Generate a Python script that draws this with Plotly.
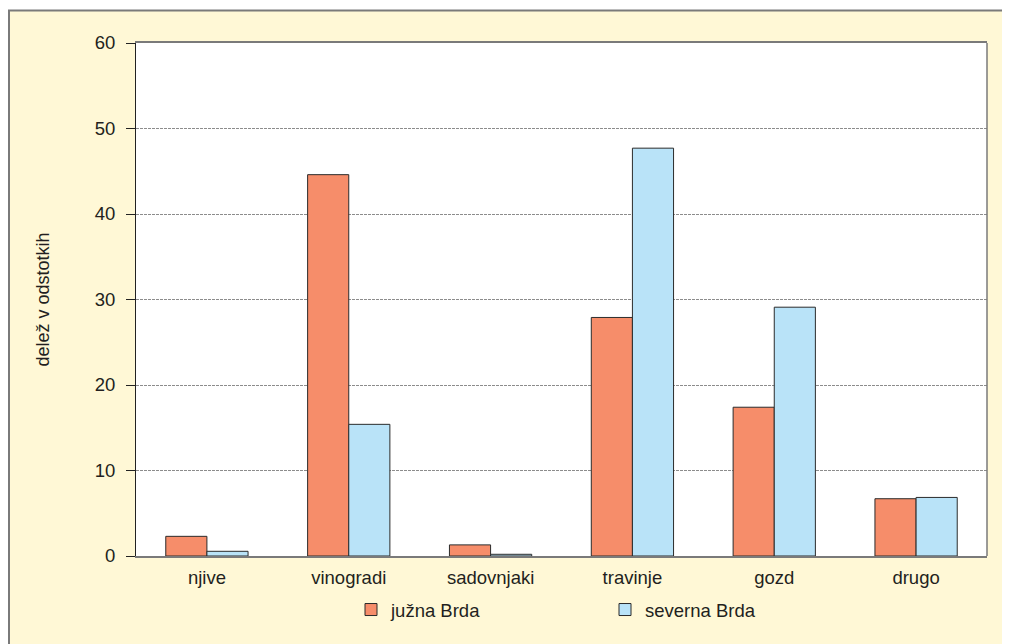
import plotly.graph_objects as go

categories = ["njive", "vinogradi", "sadovnjaki", "travinje", "gozd", "drugo"]
juzna_brda = [2.3, 44.6, 1.3, 27.9, 17.4, 6.7]
severna_brda = [0.55, 15.4, 0.2, 47.7, 29.1, 6.85]
series_names = ["južna Brda", "severna Brda"]
y_ticks = [0, 10, 20, 30, 40, 50, 60]

# the page adds an 8px body margin, so work in figure coords = screen - 8
OFF = 8
W, H = 1010 - OFF, 644 - OFF
L, R, T, B = 136 - OFF, 1010 - 987, 43 - OFF, 644 - 556
pw, ph = W - L - R, H - T - B

def px_x(x):  # screen x -> paper
    return (x - OFF - L) / pw

def px_y(y):  # screen y -> paper
    return (H - B - (y - OFF)) / ph

FONT = "Liberation Sans, Arial, sans-serif"
TXT = "#231f20"

fig = go.Figure()
fig.add_trace(go.Bar(x=categories, y=juzna_brda, name=series_names[0],
                     marker=dict(color="#F68D6A", line=dict(color="#2b2b2b", width=1))))
fig.add_trace(go.Bar(x=categories, y=severna_brda, name=series_names[1],
                     marker=dict(color="#B9E3F8", line=dict(color="#2b2b2b", width=1))))

shapes = [
    dict(type="rect", xref="paper", yref="paper", x0=px_x(-10), x1=px_x(W + 30), y0=px_y(10), y1=px_y(-10),
         fillcolor="white", line=dict(width=0), layer="below"),
    dict(type="line", xref="paper", yref="paper", x0=px_x(9), x1=px_x(9), y0=px_y(10), y1=px_y(H + 30),
         line=dict(color="#7a7a7a", width=2), layer="below"),
    dict(type="line", xref="paper", yref="paper", x0=px_x(8), x1=px_x(W + 30), y0=px_y(10.5), y1=px_y(10.5),
         line=dict(color="#7a7a7a", width=2), layer="below"),
    dict(type="line", xref="paper", yref="paper", x0=1, x1=1, y0=0, y1=1,
         line=dict(color="#7a7a7a", width=1.5)),
]

fig.update_layout(
    width=W, height=H,
    margin=dict(l=L, r=R, t=T, b=B, pad=0),
    paper_bgcolor="#FFF8D6",
    plot_bgcolor="white",
    barmode="group",
    bargap=0.42,
    bargroupgap=0,
    font=dict(family=FONT, size=18, color=TXT),
    shapes=shapes,
    showlegend=True,
    legend=dict(orientation="h", x=px_x(351), xanchor="left", y=px_y(610), yanchor="middle",
                bgcolor="rgba(0,0,0,0)", font=dict(size=18.5, color=TXT),
                entrywidth=209, entrywidthmode="pixels", traceorder="normal"),
    xaxis=dict(
        showline=True, linecolor="#7a7a7a", linewidth=2, mirror=True,
        ticks="", showgrid=False, tickfont=dict(size=18.5, color=TXT),
        ticklabelstandoff=4,
    ),
    yaxis=dict(
        range=[0, 60], tickvals=y_ticks, ticktext=[str(v) for v in y_ticks],
        showline=True, linecolor="#222222", linewidth=1, mirror=False,
        ticks="outside", ticklen=9, tickcolor="#222222", tickwidth=1,
        showgrid=True, gridcolor="#8c8c8c", griddash="3px,1px", gridwidth=1,
        zeroline=False, tickfont=dict(size=18.5, color=TXT),
        ticklabelstandoff=7,
        title=dict(text="delež v odstotkih", font=dict(size=18, color=TXT), standoff=40),
    ),
)

fig.write_html("out.html")
